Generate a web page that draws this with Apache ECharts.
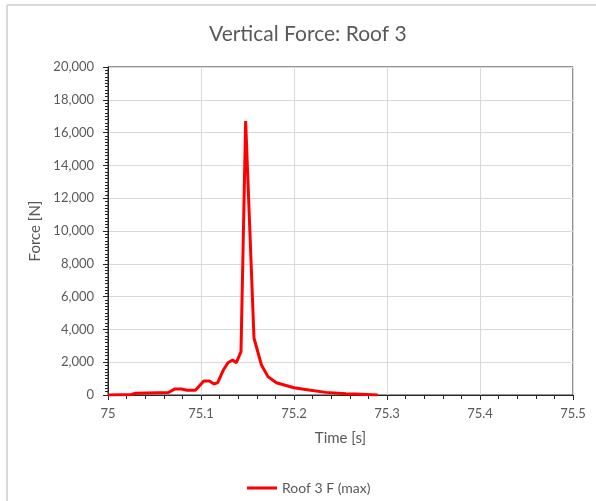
<!DOCTYPE html>
<html>
<head>
<meta charset="utf-8">
<script src="https://cdn.jsdelivr.net/npm/echarts@6/dist/echarts.min.js"></script>
<style>
  html, body { margin: 0; padding: 0; background: #fff; }
  #main { width: 596px; height: 501px; }
</style>
</head>
<body>
<div id="main"></div>
<script>
// values
var times = [75.000, 75.025, 75.030, 75.065, 75.072, 75.079, 75.085, 75.094, 75.103, 75.109,
             75.114, 75.118, 75.124, 75.129, 75.134, 75.138, 75.143, 75.148, 75.157, 75.165,
             75.172, 75.181, 75.200, 75.216, 75.234, 75.256, 75.266, 75.290];
var forces = [0, 30, 110, 150, 370, 370, 290, 290, 850, 850,
              670, 750, 1520, 1970, 2130, 1970, 2640, 16700, 3460, 1830,
              1120, 750, 440, 300, 160, 80, 60, 0];
var seriesName = 'Roof 3 F (max)';

var chart = echarts.init(document.getElementById('main'));
var font = 'Lato, "Open Sans", sans-serif';
var grey = '#595959';

var points = times.map(function (t, i) { return [t, forces[i]]; });

var option = {
  backgroundColor: '#fff',
  animation: false,
  textStyle: { fontFamily: font },
  title: {
    text: 'Vertical Force: Roof 3',
    left: 204,
    top: 19,
    textStyle: { fontSize: 21, fontWeight: 'normal', color: grey, fontFamily: font }
  },
  graphic: [
    { type: 'line', shape: { x1: 7, y1: 5, x2: 596, y2: 5 }, style: { stroke: '#d9d9d9', lineWidth: 2 } },
    { type: 'line', shape: { x1: 7, y1: 5, x2: 7, y2: 501 }, style: { stroke: '#d9d9d9', lineWidth: 2 } }
  ],
  grid: {
    left: 108, right: 23, top: 67, bottom: 106,
    show: true, borderColor: '#262626', borderWidth: 1
  },
  legend: {
    left: 242, top: 476,
    icon: 'rect',
    itemWidth: 30, itemHeight: 3, itemGap: 5,
    textStyle: { fontSize: 14, color: grey, fontFamily: font },
    data: [seriesName]
  },
  xAxis: {
    type: 'value',
    min: 75, max: 75.5, interval: 0.1,
    name: 'Time [s]',
    nameLocation: 'middle',
    nameGap: 36,
    nameTextStyle: { fontSize: 15, color: grey, fontFamily: font },
    axisLine: { lineStyle: { color: '#262626', width: 1 } },
    axisTick: { show: true, inside: false, length: 5, lineStyle: { color: '#262626' } },
    minorTick: { show: true, splitNumber: 5, length: 4, lineStyle: { color: '#262626' } },
    axisLabel: {
      margin: 12, fontSize: 13, color: grey, fontFamily: font,
      formatter: function (v) { return String(Math.round(v * 10) / 10); }
    },
    splitLine: { show: true, lineStyle: { color: '#d9d9d9', width: 1 } }
  },
  yAxis: {
    type: 'value',
    min: 0, max: 20000, interval: 2000,
    name: 'Force [N]',
    nameLocation: 'middle',
    nameGap: 62,
    nameTextStyle: { fontSize: 15, color: grey, fontFamily: font },
    axisLine: { show: true, lineStyle: { color: '#262626', width: 1 } },
    axisTick: { show: true, inside: false, length: 5, lineStyle: { color: '#262626' } },
    minorTick: { show: true, splitNumber: 10, length: 3, lineStyle: { color: '#262626' } },
    axisLabel: {
      margin: 14, fontSize: 13, color: grey, fontFamily: font,
      formatter: function (v) { return v.toLocaleString('en-US'); }
    },
    splitLine: { show: true, lineStyle: { color: '#d9d9d9', width: 1 } }
  },
  series: [
    {
      name: seriesName,
      type: 'line',
      data: points,
      symbol: 'none',
      lineStyle: { color: '#ff0000', width: 3 },
      itemStyle: { color: '#ff0000' }
    }
  ]
};

chart.setOption(option);
</script>
</body>
</html>
